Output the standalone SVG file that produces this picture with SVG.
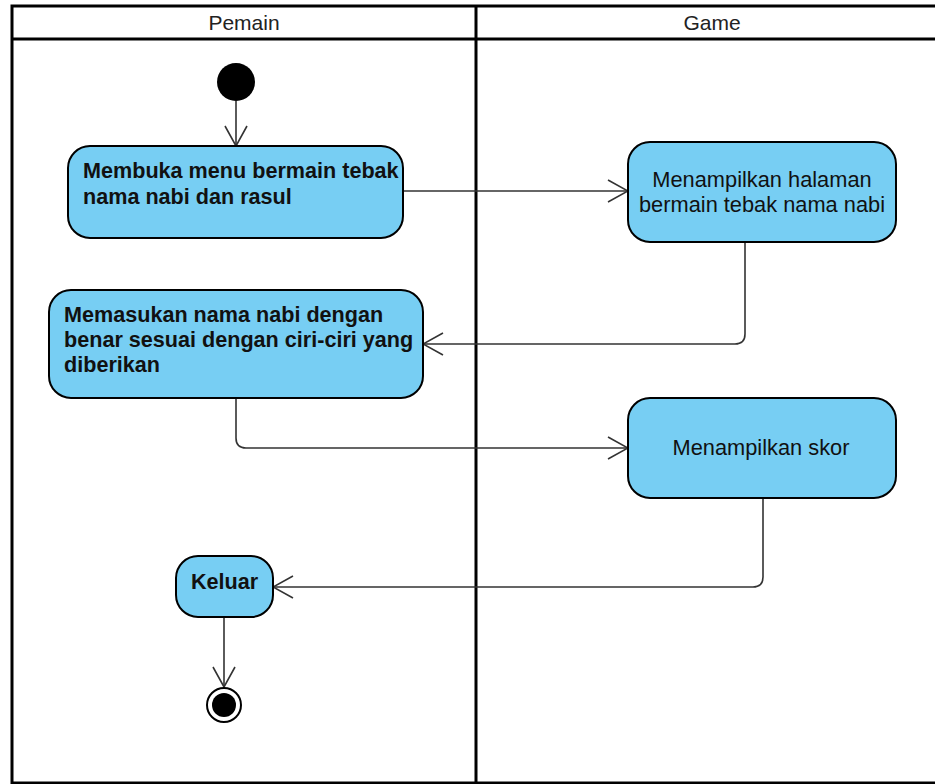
<svg xmlns="http://www.w3.org/2000/svg" width="935" height="784" viewBox="0 0 935 784">
  <style>
    .lane { fill: none; stroke: #000; stroke-width: 3; }
    .hdr { font-family: "Liberation Sans", Arial, sans-serif; font-size: 21px; fill: #222; text-anchor: middle; }
    .act { fill: #77CEF3; stroke: #000; stroke-width: 2; }
    .t { font-family: "Liberation Sans", Arial, sans-serif; font-size: 21.8px; fill: #111; }
    .b { font-weight: bold; font-size: 21.6px; }
    .c { text-anchor: middle; }
    .edge { fill: none; stroke: #333; stroke-width: 1.6; }
  </style>
  <defs>
    <marker id="open" viewBox="0 0 22 24" refX="21" refY="12" markerWidth="22" markerHeight="24" markerUnits="userSpaceOnUse" orient="auto">
      <path d="M1,1 L21,12 L1,23" fill="none" stroke="#333" stroke-width="1.6"/>
    </marker>
  </defs>
  <rect width="935" height="784" fill="#fff"/>

  <!-- swimlanes -->
  <g id="lanes">
    <rect class="lane" x="12" y="6" width="936" height="777"/>
    <line class="lane" x1="12" y1="39" x2="948" y2="39"/>
    <line class="lane" x1="476" y1="6" x2="476" y2="783"/>
    <text class="hdr" x="244" y="30">Pemain</text>
    <text class="hdr" x="712" y="30">Game</text>
  </g>

  <!-- connectors -->
  <g id="edges">
    <path class="edge" d="M236,101 V146" marker-end="url(#open)"/>
    <path class="edge" d="M403,191 H628" marker-end="url(#open)"/>
    <path class="edge" d="M745,242 V334 Q745,344 735,344 H423" marker-end="url(#open)"/>
    <path class="edge" d="M236,398 V438 Q236,448 246,448 H628" marker-end="url(#open)"/>
    <path class="edge" d="M763,498 V577 Q763,587 753,587 H273" marker-end="url(#open)"/>
    <path class="edge" d="M224,617 V687" marker-end="url(#open)"/>
  </g>

  <g id="start">
    <circle cx="236" cy="82" r="19" fill="#000"/>
  </g>

  <g id="a1">
    <rect class="act" x="68" y="146" width="335" height="92" rx="22"/>
    <text class="t b" x="83" y="178">Membuka menu bermain tebak</text>
    <text class="t b" x="83" y="204">nama nabi dan rasul</text>
  </g>

  <g id="a2">
    <rect class="act" x="628" y="142" width="268" height="100" rx="22"/>
    <text class="t c" x="762" y="187">Menampilkan halaman</text>
    <text class="t c" x="762" y="212">bermain tebak nama nabi</text>
  </g>

  <g id="a3">
    <rect class="act" x="49" y="290" width="374" height="108" rx="22"/>
    <text class="t b" x="64" y="322">Memasukan nama nabi dengan</text>
    <text class="t b" x="64" y="347">benar sesuai dengan ciri-ciri yang</text>
    <text class="t b" x="64" y="372">diberikan</text>
  </g>

  <g id="a4">
    <rect class="act" x="628" y="398" width="268" height="100" rx="22"/>
    <text class="t c" x="761" y="455">Menampilkan skor</text>
  </g>

  <g id="a5">
    <rect class="act" x="176" y="556" width="97" height="61" rx="22"/>
    <text class="t b c" x="224.5" y="589">Keluar</text>
  </g>

  <g id="end">
    <circle cx="224" cy="705" r="17" fill="#fff" stroke="#000" stroke-width="2"/>
    <circle cx="224" cy="705" r="12" fill="#000"/>
  </g>
</svg>
